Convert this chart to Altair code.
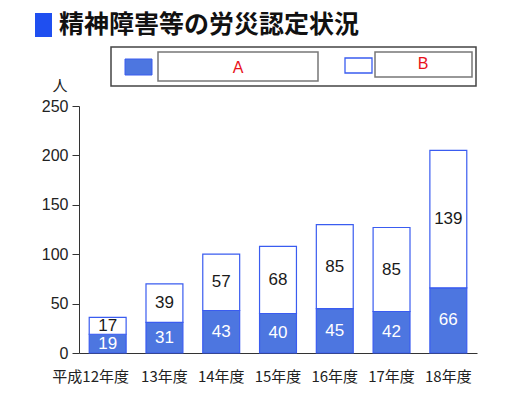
import altair as alt
import pandas as pd

years = ["平成12年度", "13年度", "14年度", "15年度", "16年度", "17年度", "18年度"]
series_a = [19, 31, 43, 40, 45, 42, 66]
series_b = [17, 39, 57, 68, 85, 85, 139]
series_names = ["A", "B"]
y_ticks = [0, 50, 100, 150, 200, 250]

rows = []
for y, a, b in zip(years, series_a, series_b):
    rows.append({"year": y, "series": "A", "value": a, "ord": 0})
    rows.append({"year": y, "series": "B", "value": b, "ord": 1})
df = pd.DataFrame(rows)

BLUE_FILL = "#4d76e0"
BLUE_EDGE = "#3a5cf0"
JP = "Noto Sans CJK JP"
NUM = "Liberation Sans"

base = alt.Chart(df)

xenc = alt.X("year:N", sort=years, title=None,
             scale=alt.Scale(paddingInner=0.35, paddingOuter=0.18),
             axis=alt.Axis(labelAngle=0, ticks=False, domainColor="#333",
                           labelFont=JP, labelFontSize=15, labelColor="#222",
                           labelPadding=16,
                           labelOffset={"condition": {"test": "datum.value == '平成12年度'", "value": -17}, "value": 0}))

bars = base.mark_bar(stroke=BLUE_EDGE, strokeWidth=1.2).encode(
    x=xenc,
    y=alt.Y("value:Q", stack="zero", title=None,
            scale=alt.Scale(domain=[0, 250], nice=False),
            axis=alt.Axis(values=y_ticks, grid=False, tickSize=7, tickColor="#333",
                          domainColor="#333", labelFont=NUM, labelFontSize=16,
                          labelColor="#222", labelPadding=4)),
    fill=alt.Fill("series:N", scale=alt.Scale(domain=series_names, range=[BLUE_FILL, "white"]), legend=None),
    order=alt.Order("ord:Q"),
)

labels = base.transform_stack(
    stack="value", groupby=["year"], sort=[alt.SortField("ord")], as_=["y0", "y1"]
).transform_calculate(mid="(datum.y0 + datum.y1) / 2").mark_text(
    font=NUM, fontSize=17, baseline="middle"
).encode(
    x=alt.X("year:N", sort=years),
    y=alt.Y("mid:Q"),
    text=alt.Text("value:Q"),
    color=alt.condition(alt.datum.series == "A", alt.value("white"), alt.value("#1a1a1a")),
)

one = pd.DataFrame({"k": [0]})
d = alt.Chart(one)

title_sq = d.mark_rect(color="#1f4ff0").encode(
    x=alt.value(-44), x2=alt.value(-27), y=alt.value(-93), y2=alt.value(-69))
title_txt = d.mark_text(align="left", baseline="middle", font=JP, fontSize=25,
                        fontWeight="bold", color="#111").encode(
    x=alt.value(-20), y=alt.value(-81), text=alt.value("精神障害等の労災認定状況"))

leg_outer = d.mark_rect(fill="white", stroke="#444", strokeWidth=1.5).encode(
    x=alt.value(32), x2=alt.value(397), y=alt.value(-59), y2=alt.value(-20))
sw_a = d.mark_rect(fill=BLUE_FILL, stroke=BLUE_EDGE).encode(
    x=alt.value(46), x2=alt.value(73), y=alt.value(-47), y2=alt.value(-31))
box_a = d.mark_rect(fill="white", stroke="#777", strokeWidth=1.5).encode(
    x=alt.value(79), x2=alt.value(239), y=alt.value(-54), y2=alt.value(-25))
txt_a = d.mark_text(font=NUM, fontSize=16, color="#e8111a", baseline="middle").encode(
    x=alt.value(159), y=alt.value(-38), text=alt.value("A"))
sw_b = d.mark_rect(fill="white", stroke=BLUE_EDGE, strokeWidth=1.3).encode(
    x=alt.value(266), x2=alt.value(293), y=alt.value(-48), y2=alt.value(-33))
box_b = d.mark_rect(fill="white", stroke="#777", strokeWidth=1.5).encode(
    x=alt.value(296), x2=alt.value(393), y=alt.value(-54), y2=alt.value(-29))
txt_b = d.mark_text(font=NUM, fontSize=16, color="#e8111a", baseline="middle").encode(
    x=alt.value(344), y=alt.value(-42), text=alt.value("B"))
unit = d.mark_text(font=JP, fontSize=15, color="#222", baseline="middle").encode(
    x=alt.value(-19), y=alt.value(-20), text=alt.value("人"))

chart = alt.layer(
    bars, labels, title_sq, title_txt, leg_outer, sw_a, box_a, txt_a, sw_b, box_b, txt_b, unit
).properties(
    width=398, height=247,
    background="white",
    autosize=alt.AutoSizeParams(type="none"),
    padding={"left": 71, "top": 98, "right": 25, "bottom": 37},
).configure_view(strokeWidth=0, stroke="transparent")

chart.save("out.html", embed_options={"renderer": "svg", "actions": False})
